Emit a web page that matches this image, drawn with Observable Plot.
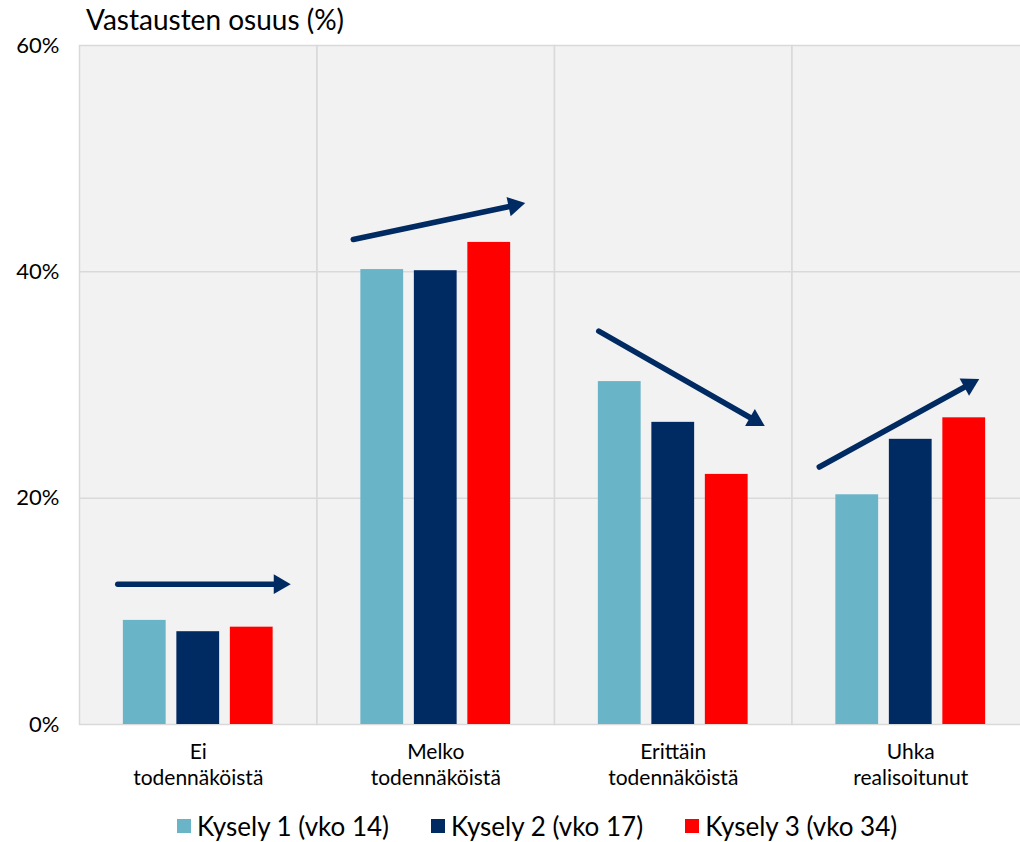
<!DOCTYPE html>
<html><head><meta charset="utf-8">
<script src="https://cdn.jsdelivr.net/npm/d3@7"></script>
<script src="https://cdn.jsdelivr.net/npm/@observablehq/plot@0.6"></script>
<style>
html,body{margin:0;padding:0;background:#fff;overflow:hidden;}
#wrap{position:relative;width:1020px;height:842px;font-family:Lato, "Open Sans", sans-serif;color:#000;overflow:hidden;}
#title{position:absolute;left:86px;top:2px;font-size:28px;line-height:34px;white-space:nowrap;}
#legend{position:absolute;left:177px;top:810px;display:flex;gap:42px;font-size:26px;line-height:32px;white-space:nowrap;}
.item{display:flex;align-items:center;gap:6px;}
.sw{width:14px;height:14px;display:inline-block;}
#chart{position:absolute;left:0;top:0;}
</style></head><body>
<div id="wrap"><div id="chart"></div><div id="title">Vastausten osuus (%)</div><div id="legend"></div></div>
<script>
// ---- data ----
const groups = ["Ei\ntodennäköistä", "Melko\ntodennäköistä", "Erittäin\ntodennäköistä", "Uhka\nrealisoitunut"];
const series = ["Kysely 1 (vko 14)", "Kysely 2 (vko 17)", "Kysely 3 (vko 34)"];
const kysely1 = [9.2, 40.2, 30.3, 20.3];
const kysely2 = [8.2, 40.1, 26.7, 25.2];
const kysely3 = [8.6, 42.6, 22.1, 27.1];
const colors = ["#6AB4C8", "#002A62", "#FF0000"];
const yTicks = [0, 20, 40, 60];
const gridTicks = [20, 40];
// trend arrows: value of the arrow line above Kysely 1 and above Kysely 3
const trendFrom = [12.4, 43.4, 33.7, 24.6];
const trendTo = [12.4, 45.4, 28.3, 29.8];

// ---- layout ----
const W = 1030, H = 800, mT = 45, mB = 76, mL = 79, mR = 1;
const pI = 0.2, pO = 0.82, yMax = 60;
const navy = "#002A62";
const arrowStartExt = [27, 29, 21, 38];   // horizontal px beyond Kysely 1 centre
const arrowEndExt = [39, 36, 38, 15];     // horizontal px beyond Kysely 3 centre (tip)
const headH = 17;

const table = [];
const values = [kysely1, kysely2, kysely3];
groups.forEach((g, i) => series.forEach((s, j) => table.push({group: g, series: s, value: values[j][i]})));

const facetW = (W - mL - mR) / groups.length;
const step = facetW / (series.length - pI + 2 * pO);
const span = (series.length - 1) * step;
const pxPerPct = (H - mT - mB) / yMax;

const arrowMarks = [];
groups.forEach((g, i) => {
  const sx = span, sy = -(trendTo[i] - trendFrom[i]) * pxPerPct;
  const L = Math.hypot(sx, sy), ux = sx / L, uy = sy / L;
  const startAlong = arrowStartExt[i] / ux, endAlong = arrowEndExt[i] / ux;
  const ang = Math.atan2(sy, sx) * 180 / Math.PI;
  const d = [{g, a: series[0], b: series[series.length - 1], from: trendFrom[i], to: trendTo[i]}];
  arrowMarks.push(Plot.arrow(d, {
    fx: "g", x1: "a", x2: "b", y1: "from", y2: "to",
    stroke: navy, strokeWidth: 5.5, headLength: 0,
    insetStart: -startAlong, insetEnd: -(endAlong - headH + 3)
  }));
  const off = endAlong - headH * 2 / 3;
  arrowMarks.push(Plot.dot(d, {
    fx: "g", x: "b", y: "to", symbol: "triangle", r: 7.3,
    fill: navy, stroke: "none", rotate: ang + 90,
    dx: off * ux, dy: off * uy
  }));
});

const chart = Plot.plot({
  width: W, height: H,
  marginTop: mT, marginBottom: mB, marginLeft: mL, marginRight: mR,
  style: {fontFamily: "Lato, 'Open Sans', sans-serif", color: "#000", background: "transparent", overflow: "visible", maxWidth: "none"},
  fx: {domain: groups, padding: 0, label: null, round: false},
  x: {domain: series, paddingInner: pI, paddingOuter: pO, axis: null, round: false},
  y: {domain: [0, yMax], label: null},
  color: {domain: series, range: colors},
  marks: [
    Plot.frame({fill: "#F2F2F2", stroke: "#D9D9D9", strokeWidth: 1.5}),
    Plot.gridY(gridTicks, {stroke: "#D9D9D9", strokeOpacity: 1, strokeWidth: 1.5}),
    Plot.barY(table, {fx: "group", x: "series", y: "value", fill: "series"}),
    ...arrowMarks,
    Plot.axisY({ticks: yTicks, tickFormat: d => d + "%", tickSize: 0, tickPadding: 20, fontSize: 22, label: null}),
    Plot.axisFx({anchor: "bottom", tickSize: 0, tickPadding: 16, fontSize: 21, lineHeight: 1.24, label: null})
  ]
});
document.getElementById("chart").appendChild(chart);

const legend = document.getElementById("legend");
series.forEach((s, j) => {
  const item = document.createElement("div");
  item.className = "item";
  const sw = document.createElement("span");
  sw.className = "sw";
  sw.style.background = colors[j];
  const t = document.createElement("span");
  t.textContent = s;
  item.appendChild(sw); item.appendChild(t);
  legend.appendChild(item);
});
</script>
</body></html>
